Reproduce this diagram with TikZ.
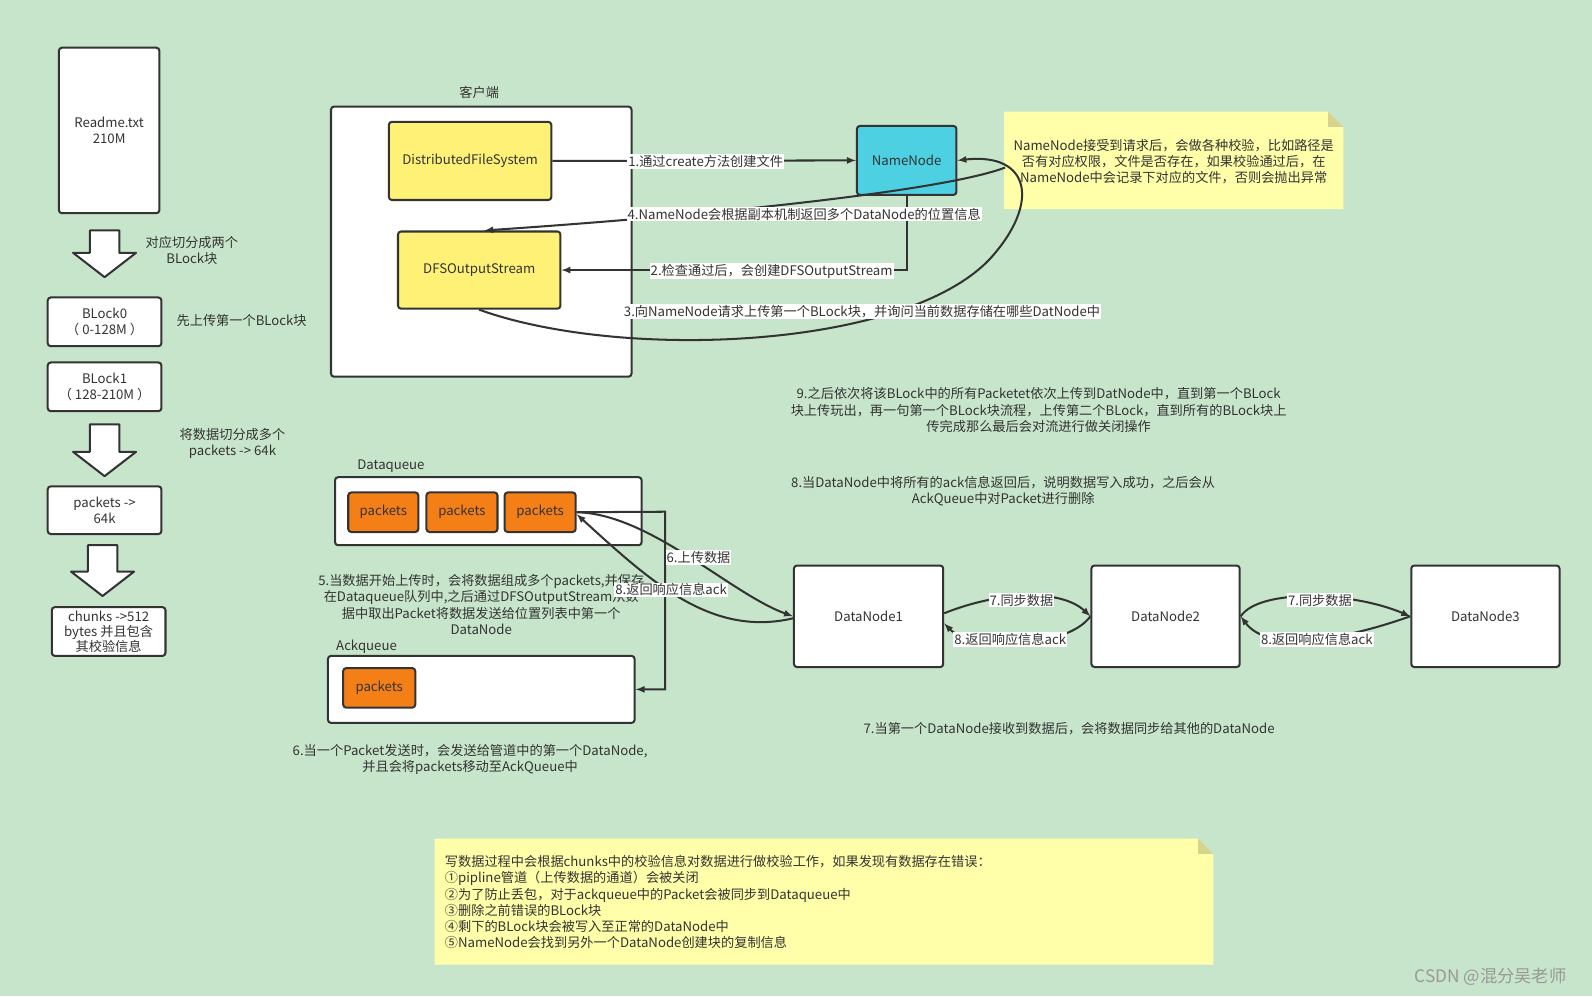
\documentclass[tikz,border=0pt]{standalone}
\usepackage{fontspec}
\setmainfont{Noto Sans CJK SC}
\usetikzlibrary{arrows}
\definecolor{bgc}{RGB}{199,229,202}
\definecolor{linec}{RGB}{51,51,51}
\definecolor{txtc}{RGB}{51,51,51}
\definecolor{yelc}{RGB}{255,241,118}
\definecolor{cyanc}{RGB}{77,208,225}
\definecolor{orgc}{RGB}{245,127,23}
\definecolor{notec}{RGB}{255,255,170}
\definecolor{foldc}{RGB}{214,212,140}
\newcommand{\bigdown}[3]{\draw[line width=2pt, draw=linec, fill=white, line join=round]
  ({#1-14.5},#2) -- ({#1+14.5},#2) -- ({#1+14.5},{#3-24}) -- ({#1+31},{#3-24}) -- (#1,#3)
  -- ({#1-31},{#3-24}) -- ({#1-14.5},{#3-24}) -- cycle;}
\newcommand{\foldnote}[4]{\fill[notec] (#1,#2) -- ({#3-15},#2) -- (#3,{#2+15}) -- (#3,#4) -- (#1,#4) -- cycle;
  \fill[foldc] ({#3-15},#2) -- ({#3-15},{#2+15}) -- (#3,{#2+15}) -- cycle;}

\begin{document}
\begin{tikzpicture}
                    [
                        x=1pt, y=-1pt,
                        every node/.style = {font=\fontsize{13}{16}\selectfont, text=txtc},
                        box/.style = {draw=linec, fill=white, line width=2pt, rounded corners=3pt, align=center, inner sep=0pt},
                        ybox/.style = {box, fill=yelc},
                        cbox/.style = {box, fill=cyanc},
                        obox/.style = {box, fill=orgc, minimum height=39pt},
                        lbl/.style = {fill=white, inner sep=1pt},
                        txt/.style = {align=center, inner sep=0pt},
                        link/.style = {draw=linec, line width=2pt},
                    ]

                    \fill[bgc] (0,0) rectangle (1568,981);
                    \useasboundingbox (0,0) rectangle (1568,981);

                    % left column
                    \node[box, minimum width=99pt, minimum height=163pt] (readme) at (107.5,128.5) {Readme.txt\\210M};
                    \bigdown{103}{227}{273}
                    \node[txt] (t0) at (189,247) {对应切分成两个\\BLock块};

                    \node[box, minimum width=112pt, minimum height=48pt] (blk0) at (103,317) {BLock0\\（ 0-128M ）};
                    \node[txt] (t1) at (238,316) {先上传第一个BLock块};
                    \node[box, minimum width=112pt, minimum height=48pt] (blk1) at (103,381) {BLock1\\（ 128-210M ）};

                    \bigdown{103}{418}{469}
                    \node[txt] (t2) at (229,437) {将数据切分成多个\\packets -> 64k};
                    \node[box, minimum width=112pt, minimum height=47pt] (pkt) at (103,502.5) {packets ->\\64k};

                    \bigdown{101}{537}{587}
                    \node[box, minimum width=112pt, minimum height=48pt, font=\fontsize{13}{15}\selectfont] (chunks) at (107,622) {chunks ->512\\bytes 并且包含\\其校验信息};

                    % client
                    \node[txt] (clientlbl) at (472,91) {客户端};
                    \node[box, minimum width=296pt, minimum height=266pt] (client) at (474,238) {};
                    \node[ybox, minimum width=160pt, minimum height=77pt] (dfs) at (463,158.5) {DistributedFileSystem};
                    \node[ybox, minimum width=160pt, minimum height=76pt] (dfsout) at (472,266) {DFSOutputStream};
                    \node[cbox, minimum width=98pt, minimum height=68pt] (nn) at (893,158) {NameNode};

                    \foldnote{989}{110}{1323}{206}
                    \node[txt] (nnnote) at (1156,159) {NameNode接受到请求后，会做各种校验，比如路径是\\否有对应权限，文件是否存在，如果校验通过后，在\\NameNode中会记录下对应的文件，否则会抛出异常};

                    \coordinate (n4s) at (990,165);
                    \draw[link, -latex] (dfs.east) -- (nn.west);
                    \draw[link, -latex] (nn.south) |- (dfsout.east);
                    \draw[link, -latex] (dfsout.south) .. controls (610,355) and (890,345) .. (975,255)
                        .. controls (1025,200) and (1015,150) .. (nn.east);
                    \draw[link, -latex] (n4s) .. controls (930,188) and (700,212) .. ([xshift=5pt]dfsout.north);

                    \node[lbl] (l1) at (695,159) {1.通过create方法创建文件};
                    \node[lbl] (l4) at (792,211) {4.NameNode会根据副本机制返回多个DataNode的位置信息};
                    \node[lbl] (l2) at (760,267) {2.检查通过后，会创建DFSOutputStream};
                    \node[lbl] (l3) at (849,307) {3.向NameNode请求上传第一个BLock块，并询问当前数据存储在哪些DatNode中};

                    % notes in the middle
                    \node[txt] (t9) at (1023,404) {9.之后依次将该BLock中的所有Packetet依次上传到DatNode中，直到第一个BLock\\块上传玩出，再一句第一个BLock块流程，上传第二个BLock，直到所有的BLock块上\\传完成那么最后会对流进行做关闭操作};
                    \node[txt] (t8) at (988,484) {8.当DataNode中将所有的ack信息返回后，说明数据写入成功，之后会从\\AckQueue中对Packet进行删除};

                    % queues
                    \node[txt] (dqlbl) at (385,459) {Dataqueue};
                    \node[box, minimum width=302pt, minimum height=67pt] (dq) at (481,503.5) {};
                    \node[obox, minimum width=69pt] (p1) at (377.5,504.5) {packets};
                    \node[obox, minimum width=70pt] (p2) at (455,504.5) {packets};
                    \node[obox, minimum width=70pt] (p3) at (532,504.5) {packets};

                    \node[txt] (t5) at (474,595.5) {5.当数据开始上传时，会将数据组成多个packets,并保存\\在Dataqueue队列中,之后通过DFSOutputStream从数\\据中取出Packet将数据发送给位置列表中第一个\\DataNode};

                    \node[txt] (aqlbl) at (361,637) {Ackqueue};
                    \node[box, minimum width=302pt, minimum height=66pt] (aq) at (474,679) {};
                    \node[obox, minimum width=71pt] (p4) at (373.5,677.5) {packets};

                    \node[txt] (t6) at (463,748) {6.当一个Packet发送时，会发送给管道中的第一个DataNode,\\并且会将packets移动至AckQueue中};

                    % datanodes
                    \node[box, minimum width=147pt, minimum height=100pt] (dn1) at (855.5,607) {DataNode1};
                    \node[box, minimum width=146pt, minimum height=100pt] (dn2) at (1148,607) {DataNode2};
                    \node[box, minimum width=146pt, minimum height=100pt] (dn3) at (1463,607) {DataNode3};

                    \coordinate (turn) at (655,504);
                    \draw[link, -latex] (p3.east) -- (turn) |- (aq.east);
                    \draw[link, -latex] (p3.east) .. controls (640,506) and (720,585) .. (dn1.west);
                    \draw[link, -latex] ([yshift=-2pt]dn1.west) .. controls (700,628) and (640,572) .. ([yshift=-2pt]p3.east);
                    \draw[link, -latex] ([yshift=3pt]dn1.east) .. controls (985,582) and (1045,580) .. (dn2.west);
                    \draw[link, -latex] (dn2.west) .. controls (1050,640) and (955,640) .. ([yshift=-7pt]dn1.east);
                    \draw[link, -latex] (dn2.east) .. controls (1240,580) and (1330,582) .. (dn3.west);
                    \draw[link, -latex] (dn3.west) .. controls (1330,628) and (1250,645) .. (dn2.east);

                    \node[lbl] (l6) at (688,549) {6.上传数据};
                    \node[lbl] (l8) at (661,581) {8.返回响应信息ack};
                    \node[lbl] (l7a) at (1006,591) {7.同步数据};
                    \node[lbl] (l8a) at (995,630) {8.返回响应信息ack};
                    \node[lbl] (l7b) at (1300,591) {7.同步数据};
                    \node[lbl] (l8b) at (1297,630) {8.返回响应信息ack};

                    \node[txt] (t7) at (1053,718) {7.当第一个DataNode接收到数据后，会将数据同步给其他的DataNode};

                    % bottom note
                    \foldnote{428}{826}{1195}{950}
                    \node[txt, align=left, anchor=west] (errnote) at (438,888.5) {写数据过程中会根据chunks中的校验信息对数据进行做校验工作，如果发现有数据存在错误：\\①pipline管道（上传数据的通道）会被关闭\\②为了防止丢包，对于ackqueue中的Packet会被同步到Dataqueue中\\③删除之前错误的BLock块\\④剩下的BLock块会被写入至正常的DataNode中\\⑤NameNode会找到另外一个DataNode创建块的复制信息};

                    \node[txt, text=gray!80, font=\fontsize{17}{20}\selectfont] (mark) at (1468,962) {CSDN @混分吴老师};
                \end{tikzpicture}
\end{document}
